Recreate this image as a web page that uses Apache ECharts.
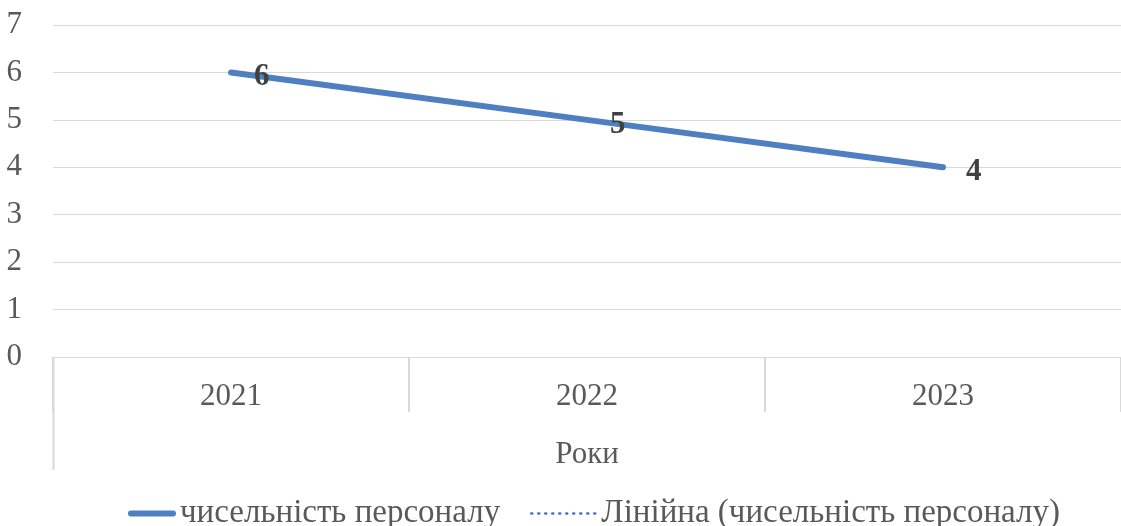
<!DOCTYPE html>
<html>
<head>
<meta charset="utf-8">
<script src="https://cdn.jsdelivr.net/npm/echarts@6/dist/echarts.min.js"></script>
<style>
    html, body { margin: 0; padding: 0; background: #fff; }
    #mainChart { width: 1121px; height: 526px; }
</style>
</head>
<body>
<div id="mainChart"></div>
<script>
var years = ["2021", "2022", "2023"];
var staffCount = [6, 5, 4];
var trendValues = [6, 5, 4];   // лінійний тренд (співпадає з даними)
var seriesNames = ["чисельність персоналу", "Лінійна (чисельність персоналу)"];

mainChartShow();

function mainChartShow() {
    var n = echarts.init(document.getElementById("mainChart"));
    var serif = "Liberation Serif";
    n.setOption({
        backgroundColor: "#fff",
        animation: false,
        textStyle: { fontFamily: serif },
        grid: { left: 53, right: 0, top: 25, bottom: 169 },
        legend: [
            {
                data: [seriesNames[0]], left: 128, top: 497, padding: 0,
                itemWidth: 42, itemHeight: 6,
                itemStyle: { opacity: 0 },
                lineStyle: { width: 6, cap: "round" },
                textStyle: { color: "#595959", fontSize: 33, fontFamily: serif, padding: [0, 0, 0, 2] }
            },
            {
                data: [seriesNames[1]], left: 530, top: 497, padding: 0,
                itemWidth: 65, itemHeight: 6,
                itemStyle: { opacity: 0 },
                lineStyle: { width: 2.5, type: [1, 6], cap: "round" },
                textStyle: { color: "#595959", fontSize: 33, fontFamily: serif }
            }
        ],
        xAxis: [{
            type: "category", data: years, boundaryGap: true,
            name: "Роки", nameLocation: "middle", nameGap: 82,
            nameTextStyle: { color: "#595959", fontSize: 31, fontFamily: serif },
            axisLine: { lineStyle: { color: "#d9d9d9", width: 1 } },
            axisTick: { show: true, length: 55, lineStyle: { color: "#d9d9d9", width: 2 } },
            axisLabel: { color: "#595959", fontSize: 31, fontFamily: serif, margin: 24 },
            splitLine: { show: false }
        }],
        yAxis: [{
            type: "value", min: 0, max: 7, interval: 1,
            axisLine: { show: false }, axisTick: { show: false },
            axisLabel: { color: "#595959", fontSize: 31, fontFamily: serif, margin: 31, padding: [6, 0, 0, 0] },
            splitLine: { lineStyle: { color: "#d9d9d9", width: 1 } }
        }],
        graphic: [{
            type: "line", silent: true,
            shape: { x1: 53.5, y1: 357, x2: 53.5, y2: 470 },
            style: { stroke: "#d9d9d9", lineWidth: 2 }
        }],
        series: [
            {
                name: seriesNames[1], type: "line", data: trendValues,
                symbol: "none", z: 1,
                itemStyle: { color: "#4472c4" },
                lineStyle: { color: "#4472c4", width: 2, type: "dotted" }
            },
            {
                name: seriesNames[0], type: "line", data: staffCount,
                symbol: "circle", symbolSize: 0, showSymbol: true, z: 3,
                itemStyle: { color: "#4e7fc0" },
                lineStyle: { color: "#4e7fc0", width: 6, cap: "round" },
                label: {
                    show: true, position: "right", distance: 23, offset: [0, 5],
                    color: "#404040", fontSize: 31, fontWeight: "bold", fontFamily: serif
                }
            }
        ]
    });
}
</script>
</body>
</html>
